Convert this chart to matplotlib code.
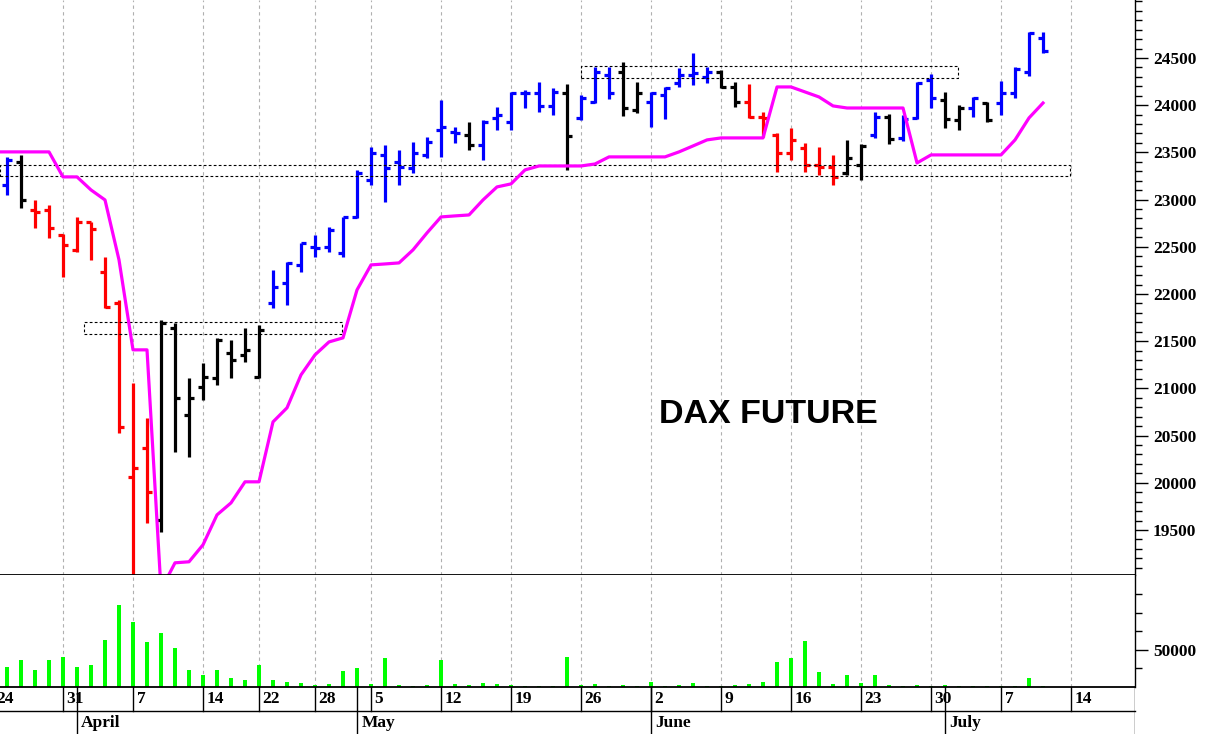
import matplotlib
matplotlib.use("Agg")
import matplotlib.pyplot as plt
from matplotlib.ticker import MultipleLocator, FixedLocator

# trading day index (0 = Mar 24)
day_idx = list(range(1, 76))
opens = [23155, 23399, 22890, 22890, 22620, 22467, 22763, 22234, 21906, 20063,
         20370, 19608, 21640, 20720, 21016, 21111, 21376, 21355, 21122, 21906,
         22118, 22308, 22499, 22499, 22435, 22816, 23208, 23473, 23399, 23335,
         23473, 23738, 23716, 23685, 23579, 23865, 23822, 24129, 24129, 23992,
         24129, 23865, 24034, 24320, 24352, 23950, 24034, 24108, 24235, 24320,
         24299, 24352, 24193, 24034, 23875, 23685, 23494, 23547, 23367, 23346,
         23282, 23367, 23685, 23875, 23653, 23865, 24267, 24055, 23843, 23970,
         24023, 24023, 24129, 24352, 24712]
highs = [23452, 23473, 22996, 22943, 22640, 22816, 22763, 22393, 21937, 21058,
         20688, 21725, 21693, 21111, 21270, 21535, 21514, 21640, 21672, 22255,
         22340, 22541, 22626, 22710, 22816, 23314, 23557, 23579, 23526, 23611,
         23663, 24055, 23769, 23822, 23843, 23981, 24140, 24161, 24246, 24182,
         24225, 24108, 24405, 24405, 24458, 24246, 24140, 24193, 24394, 24553,
         24405, 24373, 24246, 24225, 23928, 23706, 23759, 23600, 23557, 23473,
         23632, 23590, 23928, 23907, 23897, 24246, 24331, 24140, 24002, 24087,
         24034, 24256, 24405, 24775, 24775]
lows = [23049, 22911, 22700, 22594, 22181, 22446, 22361, 21853, 20529, 18500,
        19576, 19480, 20328, 20275, 20878, 21037, 21111, 21280, 21111, 21853,
        21884, 22234, 22393, 22446, 22393, 22806, 23155, 22975, 23155, 23282,
        23441, 23452, 23600, 23526, 23420, 23738, 23738, 23970, 23928, 23896,
        23314, 23843, 24023, 24066, 23886, 23918, 23769, 23854, 24193, 24214,
        24235, 24182, 23981, 23865, 23664, 23293, 23420, 23293, 23261, 23155,
        23261, 23208, 23653, 23590, 23621, 23854, 23970, 23759, 23738, 23875,
        23822, 23897, 24076, 24309, 24553]
closes = [23420, 22996, 22870, 22700, 22520, 22763, 22689, 21864, 20593, 20158,
          19904, 21693, 20900, 20900, 21122, 21514, 21302, 21408, 21620, 22075,
          22329, 22541, 22488, 22679, 22816, 23282, 23494, 23335, 23346, 23494,
          23611, 23769, 23706, 23579, 23822, 23896, 24129, 24129, 23992, 24140,
          23674, 24076, 24352, 24129, 23970, 24129, 24129, 24182, 24320, 24341,
          24352, 24193, 24034, 23875, 23865, 23494, 23632, 23367, 23346, 23240,
          23441, 23568, 23875, 23642, 23854, 24235, 24076, 23854, 23970, 24076,
          23843, 24129, 24384, 24765, 24574]
bar_colors = (["b", "k"] + ["r"] * 9 + ["k"] * 8 + ["b"] * 14 + ["k"] + ["b"] * 6
              + ["k"] + ["b"] * 3 + ["k"] * 2 + ["b"] * 5 + ["k"] * 2 + ["r"] * 7
              + ["k"] * 2 + ["b", "k", "b", "b", "b", "k", "k", "b", "k", "b", "b", "b", "b"])

stop_idx = list(range(0, 76))
stop_line = [23505, 23505, 23505, 23505, 23505, 23240, 23240, 23102, 22996, 22361,
             21408, 21408, 18866, 19152, 19163, 19343, 19660, 19787, 20010, 20010,
             20645, 20794, 21143, 21355, 21492, 21535, 22043, 22308, 22318, 22329,
             22467, 22647, 22816, 22827, 22837, 22996, 23134, 23166, 23314, 23356,
             23356, 23356, 23356, 23377, 23452, 23452, 23452, 23452, 23452, 23505,
             23568, 23632, 23653, 23653, 23653, 23653, 24193, 24193, 24140, 24087,
             23992, 23970, 23970, 23970, 23970, 23970, 23388, 23473, 23473, 23473,
             23473, 23473, 23473, 23632, 23865, 24023]

volume = [27000, 36500, 23000, 36500, 40500, 27000, 29700, 63500, 110800, 87800,
          60800, 73000, 52700, 23000, 16200, 23000, 12200, 9500, 29700, 9500,
          6800, 5400, 2700, 4000, 21600, 25700, 4000, 39200, 2700, 1400,
          2700, 36500, 4000, 2700, 5400, 4000, 2700, 1400, 1400, 1400,
          40500, 2700, 4000, 1400, 2700, 1400, 6800, 1400, 2700, 5400,
          1400, 1400, 2700, 4000, 6800, 33800, 39200, 62100, 20300, 4000,
          16200, 5400, 16200, 2700, 1400, 2700, 1400, 2700, 1400, 1400,
          1400, 1400, 1400, 12200, 1400]

# (start idx, end idx, low, high)
zones = [(0.5, 76.9, 23250, 23365), (6.5, 24.9, 21577, 21704), (42.0, 68.9, 24288, 24415)]

week_idx = [0, 5, 10, 15, 19, 23, 27, 32, 37, 42, 47, 52, 57, 62, 67, 72, 77]
week_labels = ["24", "31", "7", "14", "22", "28", "5", "12", "19", "26", "2", "9", "16", "23", "30", "7", "14"]
month_idx = [6, 26, 47, 68]
month_labels = ["April", "May", "June", "July"]

W, H = 1206, 734
fig = plt.figure(figsize=(W / 100, H / 100), dpi=100)
right = 1135 / W
ax = fig.add_axes([0, 159 / H, right, 575 / H])
axv = fig.add_axes([0, 47 / H, right, 112 / H], sharex=ax)
axd = fig.add_axes([0, 0, right, 47 / H], sharex=ax)
xmin, xmax = 0.5, 81.57

serif = dict(family="Liberation Serif", weight="bold", size=12.5)

for a in (ax, axv):
    for g in week_idx:
        a.axvline(g, color="#b0b0b0", lw=0.8, ls=(0, (3, 3)), zorder=0)
    a.spines["left"].set_visible(False)
    a.spines["top"].set_visible(False)
    a.spines["right"].set_linewidth(1.0)
    a.spines["bottom"].set_linewidth(1.3)
    a.spines["bottom"].set_color("black")
    a.spines["bottom"].set_zorder(5)
    a.yaxis.tick_right()
    a.tick_params(axis="x", bottom=False, labelbottom=False)

# price bars
tw = 0.38
for i, o, h, l, c, col in zip(day_idx, opens, highs, lows, closes, bar_colors):
    ax.vlines(i, l, h, color=col, lw=2.3)
    ax.hlines(o, i - tw, i, color=col, lw=2.3)
    ax.hlines(c, i, i + tw, color=col, lw=2.3)

ax.plot(stop_idx, stop_line, color="#ff00ff", lw=2.3, zorder=3)

for x0, x1, lo, hi in zones:
    ax.plot([x0, x1, x1, x0, x0], [lo, lo, hi, hi, lo], color="black", lw=0.8, ls=(0, (2.5, 2)))

ax.text(55.4, 20720, "DAX FUTURE", fontsize=24.5, fontweight="bold", family="Liberation Sans",
        ha="center", va="center")

ax.set_xlim(xmin, xmax)
ax.set_ylim(19023, 25114)
ax.yaxis.set_major_locator(FixedLocator([19500, 20000, 20500, 21000, 21500, 22000, 22500, 23000, 23500, 24000, 24500]))
ax.yaxis.set_minor_locator(MultipleLocator(100))
ax.tick_params(axis="y", which="major", length=9, width=1, pad=4)
ax.tick_params(axis="y", which="minor", length=5, width=1)
for t in ax.get_yticklabels():
    t.set(**serif)

# volume
axv.bar(day_idx, volume, width=0.3, color="#00ff00")
axv.set_ylim(0, 151000)
axv.yaxis.set_major_locator(FixedLocator([50000]))
axv.yaxis.set_minor_locator(FixedLocator([25000, 75000, 100000, 125000]))
axv.tick_params(axis="y", which="major", length=9, width=1, pad=4)
axv.tick_params(axis="y", which="minor", length=5, width=1)
for t in axv.get_yticklabels():
    t.set(**serif)

# date strip
axd.set_axis_off()
axd.set_ylim(0, 2)
axd.plot([xmin, xmax], [1, 1], color="black", lw=1, clip_on=False)
axd.plot([xmax, xmax], [0, 2], color="black", lw=1)
for g, lab in zip(week_idx, week_labels):
    axd.plot([g, g], [1, 2], color="black", lw=1)
    axd.text(g + 0.25, 1.5, lab, ha="left", va="center", **serif)
for g, lab in zip(month_idx, month_labels):
    axd.plot([g, g], [0, 2], color="black", lw=1)
    axd.text(g + 0.3, 0.45, lab, ha="left", va="center", **serif)

fig.savefig("out.png", dpi=100)
